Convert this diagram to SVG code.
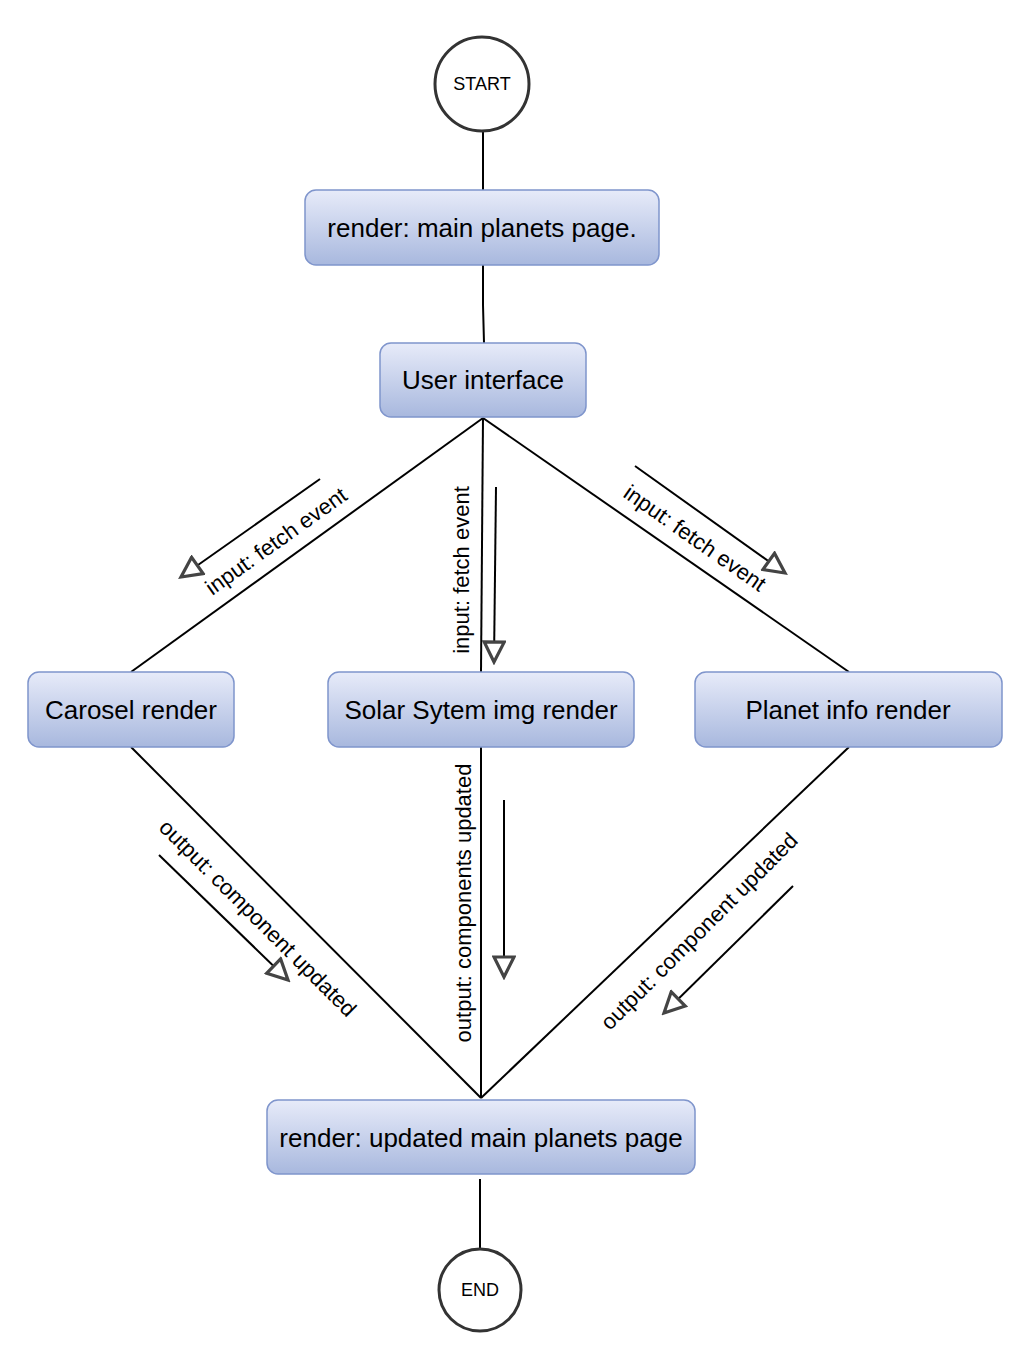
<svg xmlns="http://www.w3.org/2000/svg" width="1036" height="1372" viewBox="0 0 1036 1372">
<style>
.box{fill:url(#g);stroke:#7f95cc;stroke-width:1.5}
.circ{fill:#fff;stroke:#333;stroke-width:3}
.bt{font-family:"Liberation Sans",Arial,sans-serif;font-size:26px;fill:#000;text-anchor:middle}
.ct{font-family:"Liberation Sans",Arial,sans-serif;font-size:18px;fill:#000;text-anchor:middle}
.lt{font-family:"Liberation Sans",Arial,sans-serif;font-size:22px;fill:#000;text-anchor:middle}
.ln{stroke:#000;stroke-width:2;fill:none}
.ar{stroke:#000;stroke-width:2;fill:none;marker-end:url(#tri)}
</style>
<defs>
<linearGradient id="g" x1="0" y1="0" x2="0" y2="1">
<stop offset="0" stop-color="#e7ebf9"/>
<stop offset="1" stop-color="#a8b8de"/>
</linearGradient>
<marker id="tri" viewBox="0 0 26 24" refX="23" refY="12" markerWidth="26" markerHeight="24" markerUnits="userSpaceOnUse" orient="auto">
<path d="M3,2 L23,12 L3,22 Z" fill="#fff" stroke="#444" stroke-width="3.2" stroke-linejoin="miter"/>
</marker>
</defs>
<rect width="1036" height="1372" fill="#fff"/>
<g id="connectors">
<line class="ln" x1="483" y1="131" x2="483" y2="190"/>
<polyline class="ln" points="483,265 483,305 484,343"/>
<line class="ln" x1="483" y1="418" x2="131" y2="672"/>
<line class="ln" x1="483" y1="418" x2="481" y2="672"/>
<line class="ln" x1="483" y1="418" x2="849" y2="672"/>
<line class="ln" x1="131" y1="747" x2="481" y2="1098"/>
<line class="ln" x1="481" y1="747" x2="481" y2="1098"/>
<line class="ln" x1="849" y1="747" x2="481" y2="1098"/>
<line class="ln" x1="480" y1="1179" x2="480" y2="1250"/>
<line class="ar" x1="320" y1="479" x2="181" y2="577"/>
<line class="ar" x1="496" y1="487" x2="494" y2="662"/>
<line class="ar" x1="635" y1="466" x2="785" y2="573"/>
<line class="ar" x1="159" y1="855" x2="288" y2="980"/>
<line class="ar" x1="504" y1="800" x2="504" y2="977"/>
<line class="ar" x1="793" y1="886" x2="664" y2="1013"/>
<text class="lt" transform="translate(276,541) rotate(-35.5)" dy=".35em">input: fetch event</text>
<text class="lt" transform="translate(461,570) rotate(-90)" dy=".35em">input: fetch event</text>
<text class="lt" transform="translate(695,538) rotate(35)" dy=".35em">input: fetch event</text>
<text class="lt" transform="translate(258,918) rotate(45)" dy=".35em">output: component updated</text>
<text class="lt" transform="translate(463,903) rotate(-90)" dy=".35em">output: components updated</text>
<text class="lt" transform="translate(699,931) rotate(-45)" dy=".35em">output: component updated</text>
</g>
<g id="start">
<circle class="circ" cx="482" cy="84" r="47"/>
<text class="ct" x="482" y="90">START</text>
</g>
<g id="render-main">
<rect class="box" x="305" y="190" width="354" height="75" rx="11"/>
<text class="bt" x="482" y="237">render: main planets page.</text>
</g>
<g id="user-interface">
<rect class="box" x="380" y="343" width="206" height="74" rx="11"/>
<text class="bt" x="483" y="389">User interface</text>
</g>
<g id="carosel">
<rect class="box" x="28" y="672" width="206" height="75" rx="11"/>
<text class="bt" x="131" y="719">Carosel render</text>
</g>
<g id="solar">
<rect class="box" x="328" y="672" width="306" height="75" rx="11"/>
<text class="bt" x="481" y="719">Solar Sytem img render</text>
</g>
<g id="planet-info">
<rect class="box" x="695" y="672" width="307" height="75" rx="11"/>
<text class="bt" x="848" y="719">Planet info render</text>
</g>
<g id="render-updated">
<rect class="box" x="267" y="1100" width="428" height="74" rx="11"/>
<text class="bt" x="481" y="1147">render: updated main planets page</text>
</g>
<g id="end">
<circle class="circ" cx="480" cy="1290" r="41"/>
<text class="ct" x="480" y="1296">END</text>
</g>
</svg>
